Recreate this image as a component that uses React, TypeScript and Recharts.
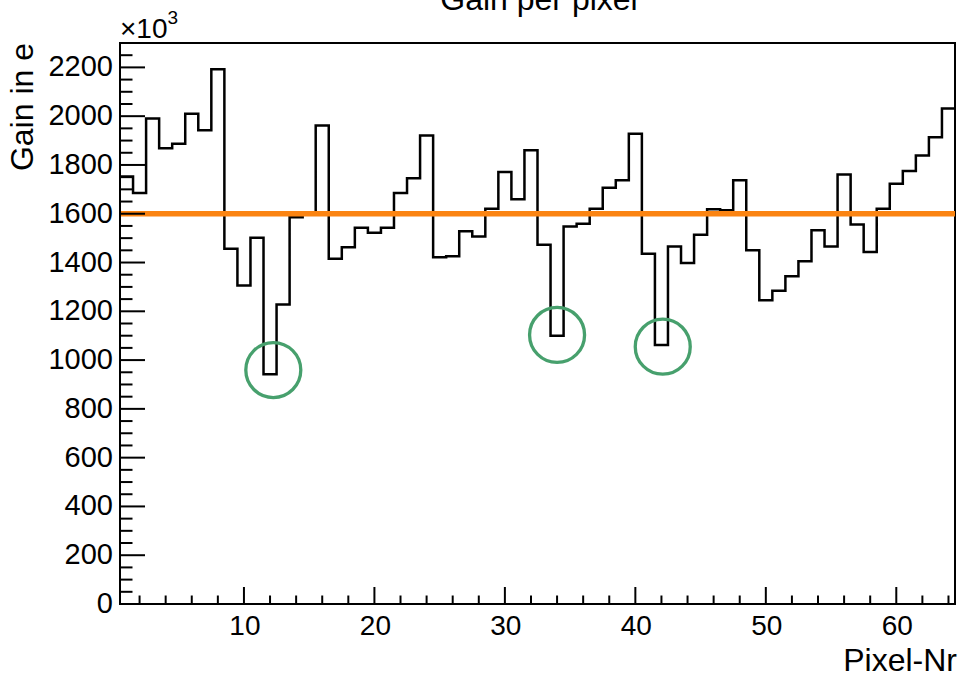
import React from "react";
import {
  ComposedChart,
  Line,
  XAxis,
  YAxis,
  ReferenceLine,
  ReferenceDot,
  ReferenceArea,
} from "recharts";

// Gain per pixel (x10^3 e), pixels 1..64
const pixels: number[] = Array.from({ length: 64 }, (_, i) => i + 1);
const gains: number[] = [
  1753, 1685, 1990, 1869, 1887, 2010, 1942, 2192, 1456, 1306,
  1502, 942, 1228, 1586, 1602, 1962, 1415, 1463, 1543, 1522,
  1543, 1685, 1746, 1921, 1422, 1426, 1528, 1507, 1620, 1771,
  1659, 1860, 1473, 1100, 1548, 1559, 1620, 1707, 1737, 1928,
  1436, 1062, 1466, 1398, 1514, 1618, 1614, 1737, 1450, 1245,
  1284, 1344, 1405, 1532, 1466, 1761, 1556, 1443, 1620, 1723,
  1775, 1839, 1914, 2031,
];
const meanGain = 1600;
const circledPixels: number[] = [12.25, 34, 42.1];
const circledGains: number[] = [959, 1103, 1055];

const xTicks: number[] = Array.from({ length: 32 }, (_, i) => (i + 1) * 2);
const yTicks: number[] = Array.from({ length: 46 }, (_, i) => i * 50);

// histogram edges: stepAfter from low edge of each bin
const data = pixels.map((p, i) => ({ x: p - 0.5, gain: gains[i] }));
data.push({ x: pixels[pixels.length - 1] + 0.5, gain: gains[gains.length - 1] });

const FONT = "'Liberation Sans', Arial, Helvetica, sans-serif";

const XTick = (props: any) => {
  const { x, y, payload } = props;
  const v = payload.value;
  const major = v % 10 === 0;
  return (
    <g>
      <line x1={x} x2={x} y1={y} y2={y - (major ? 17 : 8.5)} stroke="#000" strokeWidth={2} />
      {major && (
        <text x={x + 1} y={y + 31} textAnchor="middle" fontSize={28} fontFamily={FONT} fill="#000">
          {v}
        </text>
      )}
    </g>
  );
};

const YTick = (props: any) => {
  const { x, y, payload } = props;
  const v = payload.value;
  const major = v % 200 === 0;
  return (
    <g>
      <line x1={x} x2={x + (major ? 25 : 12.5)} y1={y} y2={y} stroke="#000" strokeWidth={2} />
      {major && (
        <text x={x - 7} y={y + 9} textAnchor="end" fontSize={29} fontFamily={FONT} fill="#000">
          {v}
        </text>
      )}
    </g>
  );
};

export default function App() {
  return (
    <div style={{ position: "absolute", left: 0, top: 0, width: 968, height: 677, background: "#fff" }}>
      <ComposedChart
        width={968}
        height={677}
        data={data}
        margin={{ top: 43, right: 13, left: 0, bottom: 0 }}
      >
        <XAxis
          dataKey="x"
          type="number"
          domain={[0.5, 64.5]}
          ticks={xTicks}
          interval={0}
          tickSize={0}
          tickMargin={0}
          tick={<XTick />}
          tickLine={false}
          axisLine={{ stroke: "#000", strokeWidth: 2 }}
          height={73}
          allowDataOverflow
        />
        <YAxis
          type="number"
          domain={[0, 2300]}
          ticks={yTicks}
          interval={0}
          tickSize={0}
          tickMargin={0}
          tick={<YTick />}
          tickLine={false}
          axisLine={{ stroke: "#000", strokeWidth: 2 }}
          width={120}
          allowDataOverflow
        />
        <ReferenceArea
          x1={0.5}
          x2={64.5}
          y1={0}
          y2={2300}
          fill="none"
          fillOpacity={0}
          stroke="#000"
          strokeWidth={2}
        />
        <Line
          type="stepAfter"
          dataKey="gain"
          stroke="#000"
          strokeWidth={2.5}
          dot={false}
          activeDot={false}
          isAnimationActive={false}
        />
        <ReferenceLine y={meanGain} stroke="#fb8412" strokeWidth={5.5} />
        {circledPixels.map((cx, i) => (
          <ReferenceDot
            key={i}
            x={cx}
            y={circledGains[i]}
            r={27.5}
            fill="none"
            fillOpacity={0}
            stroke="#47a06d"
            strokeWidth={3.3}
          />
        ))}
      </ComposedChart>
      <svg
        width={968}
        height={677}
        style={{ position: "absolute", left: 0, top: 0, pointerEvents: "none" }}
      >
        <text x={539} y={10} textAnchor="middle" fontSize={32} fontFamily={FONT} fill="#000">
          Gain per pixel
        </text>
        <text x={120} y={38} fontSize={28} fontFamily={FONT} fill="#000">
          ×10
          <tspan dy={-14} fontSize={19}>3</tspan>
        </text>
        <text
          x={0}
          y={0}
          transform="translate(33,43) rotate(-90)"
          textAnchor="end"
          fontSize={32}
          fontFamily={FONT}
          fill="#000"
        >
          Gain in e
        </text>
        <text x={957} y={671} textAnchor="end" fontSize={32} fontFamily={FONT} fill="#000">
          Pixel-Nr
        </text>
      </svg>
    </div>
  );
}
